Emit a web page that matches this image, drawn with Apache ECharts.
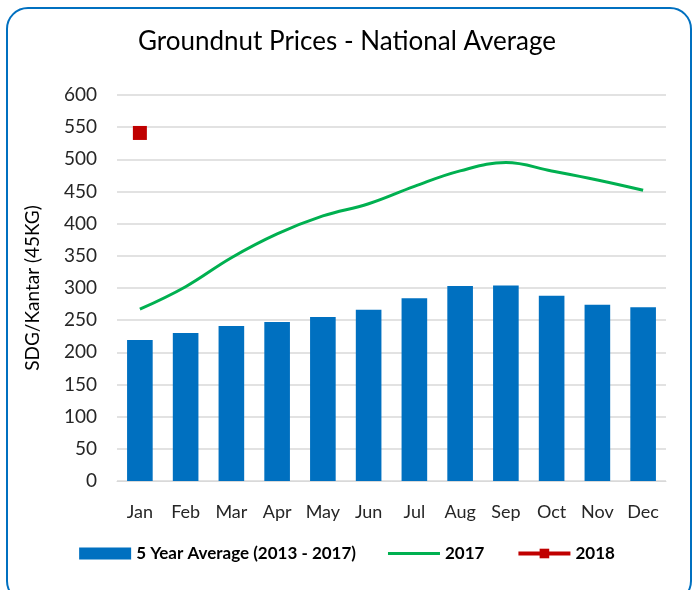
<!DOCTYPE html>
<html>
<head>
<meta charset="utf-8">
<script src="https://cdn.jsdelivr.net/npm/echarts@6/dist/echarts.min.js"></script>
<style>
  html, body { margin: 0; padding: 0; background: #fff; overflow: hidden; }
  #frame {
    position: absolute; left: 6px; top: 7px; width: 682px; height: 592px;
    border: 2px solid #0070C0; border-radius: 22px; box-sizing: content-box;
  }
  #chart { position: absolute; left: 0; top: 0; width: 694px; height: 590px; }
</style>
</head>
<body>
<div id="frame"></div>
<div id="chart"></div>
<script>
const months = ['Jan', 'Feb', 'Mar', 'Apr', 'May', 'Jun', 'Jul', 'Aug', 'Sep', 'Oct', 'Nov', 'Dec'];
const avg5yr = [219, 230, 241, 247, 255, 266, 284, 303, 304, 288, 274, 270];
const prices2017 = [267, 302, 347, 384, 412, 431, 458, 482, 495, 482, 468, 452];
const prices2018 = [541, null, null, null, null, null, null, null, null, null, null, null];

const FONT = 'Lato, "Open Sans", sans-serif';

const chart = echarts.init(document.getElementById('chart'));
chart.setOption({
  animation: false,
  title: {
    text: 'Groundnut Prices - National Average',
    left: 'center',
    top: 24,
    textStyle: { fontFamily: FONT, fontSize: 26, fontWeight: 'normal', color: '#000' }
  },
  grid: { left: 117, right: 28, top: 95, bottom: 109, containLabel: false },
  legend: {
    bottom: 23,
    left: 'center',
    itemGap: 32,
    itemWidth: 52,
    itemHeight: 12,
    textStyle: { fontFamily: FONT, fontSize: 17, fontWeight: 'bold', color: '#000' },
    data: [
      { name: '5 Year Average (2013 - 2017)', icon: 'rect' },
      { name: '2017', icon: 'path://M0,0 L100,0 L100,6 L0,6 Z' },
      { name: '2018', lineStyle: { width: 4 } }
    ]
  },
  xAxis: {
    type: 'category',
    data: months,
    axisLine: { lineStyle: { color: '#D9D9D9', width: 1 } },
    axisTick: { show: false },
    axisLabel: { interval: 0, fontFamily: FONT, fontSize: 18, color: '#262626', margin: 22 }
  },
  yAxis: {
    type: 'value',
    min: 0,
    max: 600,
    interval: 50,
    name: 'SDG/Kantar (45KG)',
    nameLocation: 'middle',
    nameGap: 75,
    nameTextStyle: { fontFamily: FONT, fontSize: 19, color: '#000' },
    axisLine: { show: false },
    axisTick: { show: false },
    axisLabel: { fontFamily: FONT, fontSize: 19, color: '#262626', margin: 20 },
    splitLine: { lineStyle: { color: '#D9D9D9', width: 1.5 } }
  },
  series: [
    {
      name: '5 Year Average (2013 - 2017)',
      type: 'bar',
      data: avg5yr,
      barWidth: '56%',
      itemStyle: { color: '#0070C0' }
    },
    {
      name: '2017',
      type: 'line',
      data: prices2017,
      smooth: 0.4,
      showSymbol: false,
      symbol: 'none',
      lineStyle: { color: '#00B050', width: 3 },
      itemStyle: { color: '#00B050' }
    },
    {
      name: '2018',
      type: 'line',
      data: prices2018,
      symbol: 'rect',
      symbolSize: 14,
      lineStyle: { color: '#C00000', width: 3 },
      itemStyle: { color: '#C00000' }
    }
  ]
});
</script>
</body>
</html>
